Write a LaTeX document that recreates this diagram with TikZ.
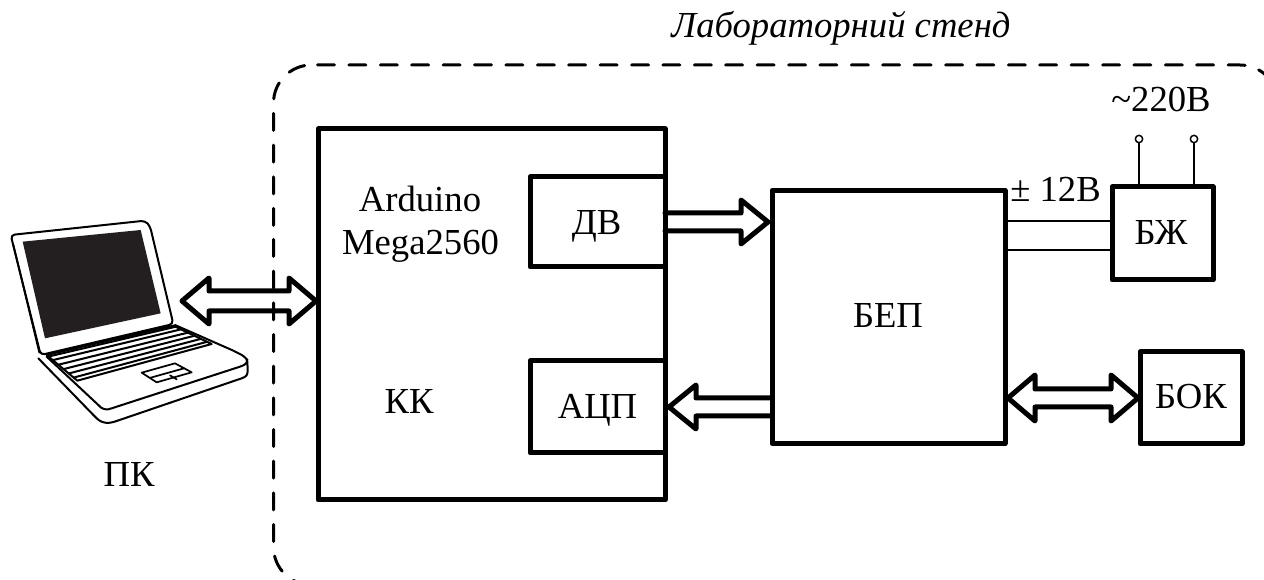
\documentclass[tikz,border=0pt]{standalone}
\usepackage{fontspec}
\setmainfont{Liberation Serif}
\usetikzlibrary{calc}
\definecolor{scr}{HTML}{231F20}
\tikzset{
  bx/.style 2 args={draw=black,line width=3.75pt,line join=round,fill=white,inner sep=0pt,outer sep=0pt,
    minimum width=#1*0.75pt,minimum height=#2*0.75pt},
  lbl/.style={inner sep=0pt,outer sep=0pt,anchor=base,font=\fontsize{27.5}{36}\selectfont},
  barrow/.style={draw=black,line width=3.75pt,line join=round,line cap=round},
  wire/.style={draw=black,line width=1.5pt},
  pin/.style={circle,draw=black,fill=white,line width=1.1pt,minimum size=5.5pt,inner sep=0pt,outer sep=0pt},
  lapo/.style={draw=black,line width=1.3pt,line join=round,line cap=round},
  stand/.style={draw=black,line width=2.25pt,line cap=round,rounded corners=28.5pt,dash pattern=on 12.75pt off 11pt},
}
% single block arrow: #1 tail, #2 tip, #3 direction (+1 points right, -1 points left)
\newcommand\onearrow[3]{%
  \draw[barrow] ($(#1|-#2)+(0,-9)$) -- ($(#2)+({-27*(#3)},-9)$) -- ($(#2)+({-27*(#3)},-22)$) -- (#2)
    -- ($(#2)+({-27*(#3)},22)$) -- ($(#2)+({-27*(#3)},9)$) -- ($(#1|-#2)+(0,9)$);}
% double block arrow: #1 left tip, #2 right tip, #3 half shaft
\newcommand\twoarrow[3]{%
  \draw[barrow,fill=white] (#1) -- ($(#1)+(27,-23)$) -- ($(#1)+(27,-#3)$) -- ($(#2)+(-27,-#3)$) -- ($(#2)+(-27,-23)$)
    -- (#2) -- ($(#2)+(-27,23)$) -- ($(#2)+(-27,#3)$) -- ($(#1)+(27,#3)$) -- ($(#1)+(27,23)$) -- cycle;}
\begin{document}
\begin{tikzpicture}[x=0.75pt,y=-0.75pt]
\useasboundingbox (0,0) rectangle (1264,580);
\node[lbl,font=\fontsize{27.5}{36}\selectfont\itshape] (title) at (841,38) {Лабораторний стенд};
% blocks
\node[bx={347}{371}] (kk) at (491.5,314.5) {};
\node[lbl] (ard) at (420,212) {Arduino};
\node[lbl] (mega) at (420.5,255) {Mega2560};
\node[lbl] (kkt) at (409,414) {КК};
\node[bx={135}{90}] (dv) at (597.5,222) {};
\node[lbl] (dvt) at (596.5,235) {ДВ};
\node[bx={135}{92}] (adc) at (597.5,407) {};
\node[lbl] (adct) at (597.5,419) {АЦП};
\node[bx={233}{253}] (bep) at (888.5,317) {};
\node[lbl] (bept) at (888,328) {БЕП};
\node[bx={101}{93}] (bzh) at (1162.5,233.5) {};
\node[lbl] (bzht) at (1161,245) {БЖ};
\node[bx={102}{92}] (bok) at (1191,398) {};
\node[lbl] (bokt) at (1191,409) {БОК};
% power wires
\coordinate (w1) at (1060,221);
\coordinate (w2) at (1060,250);
\draw[wire] (bep.east|-w1) -- (bzh.west|-w1);
\draw[wire] (bep.east|-w2) -- (bzh.west|-w2);
\node[lbl] (v12) at (1055.5,202) {± 12В};
\node[pin] (p1) at (1139,139) {};
\node[pin] (p2) at (1194,139) {};
\draw[wire] (p1) -- (p1|-bzh.north);
\draw[wire] (p2) -- (p2|-bzh.north);
\node[lbl] (v220) at (1161,112) {\textasciitilde 220В};
% block arrows
\coordinate (t1) at ($(bep.west|-dv.center)+(-4,0)$);
\onearrow{dv.east}{t1}{1}
\coordinate (t2) at ($(adc.east)+(4,0)$);
\onearrow{bep.west}{t2}{-1}
\coordinate (t3a) at ($(bep.east|-bok.center)+(3,0)$);
\coordinate (t3b) at ($(bok.west)+(-2,0)$);
\twoarrow{t3a}{t3b}{9}
% laptop
\begin{scope}[x=0.25pt,y=-0.25pt,shift={(0,600)}]
  \draw[lapo,line width=1.5pt,rounded corners=3pt,fill=white] (32,105) -- (435,62) -- (450,78) -- (520,372) -- (122,465) -- cycle;
  \draw[lapo] (40,135) -- (118,458);
  \fill[scr] (68,125) -- (422,90) -- (482,340) -- (135,415) -- cycle;
  \draw[lapo,line width=1.5pt] (115,475) -- (285,650) .. controls (305,672) and (325,672) .. (350,663) -- (725,535)
     .. controls (740,530) and (743,525) .. (743,510) -- (742,485) .. controls (740,470) and (725,465) .. (700,452) -- (525,375);
  \draw[lapo,line width=1.5pt] (140,470) -- (295,615) .. controls (305,628) and (320,632) .. (335,625) -- (720,500)
     .. controls (735,495) and (742,490) .. (742,478);
  \draw[lapo,line width=1.5pt] (140,465) -- (520,377) -- (635,432) -- (232,542) -- cycle;
  \foreach \t in {0.06,0.2,0.38,0.55,0.72,0.88}
    \draw[lapo,line width=1.5pt] ({140+92*\t},{465+77*\t}) -- ({520+115*\t},{377+55*\t});
  \draw[lapo] (425,518) -- (525,490) -- (575,517) -- (470,547) -- cycle;
  \draw[lapo] (452,533) -- (552,505);
  \draw[lapo] (510,526) -- (530,538);
\end{scope}
\coordinate (pc) at (182,301);
\node[lbl] (pclbl) at (129,487) {ПК};
\coordinate (t4) at ($(kk.west|-pc)+(-2,0)$);
\twoarrow{pc}{t4}{10}
% dashed stand frame
\begin{scope}
\clip (0,0) rectangle (1264,580);
\draw[stand] (273.5,225.5) -- (273.5,65) -- (315,65);
\draw[stand] (273.5,239.5) -- (273.5,585) -- (1300,585);
\draw[stand,dash pattern=on 12.75pt off 10.8pt] (317.5,65) -- (1278,65) -- (1278,600);
\end{scope}
\end{tikzpicture}
\end{document}
